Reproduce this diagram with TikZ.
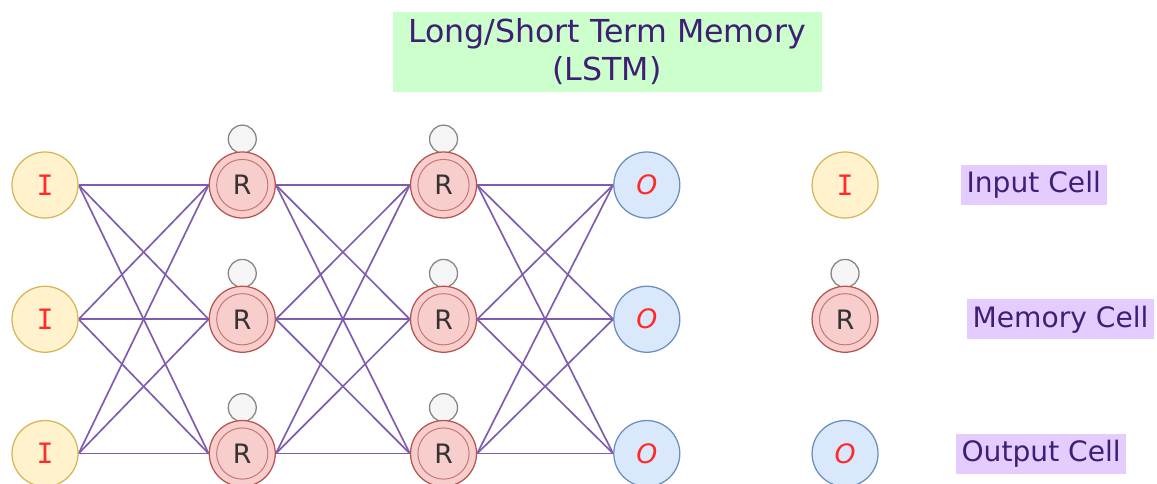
\documentclass[tikz,border=0pt]{standalone}
\usepackage{fontspec}
\setmainfont{DejaVu Sans}
\newfontfamily\serifI{DejaVu Sans Mono}
\usepackage{tikz}
\usetikzlibrary{positioning,backgrounds}
\definecolor{inyellow}{HTML}{FFF2CC}
\definecolor{inborder}{HTML}{D6B656}
\definecolor{memred}{HTML}{F8CECC}
\definecolor{memborder}{HTML}{B85450}
\definecolor{outblue}{HTML}{DAE8FC}
\definecolor{outborder}{HTML}{6C8EBF}
\definecolor{loopgray}{HTML}{F5F5F5}
\definecolor{loopborder}{HTML}{666666}
\definecolor{wirepurple}{HTML}{7E5DB0}
\definecolor{labelpurple}{HTML}{E5CCFF}
\definecolor{textpurple}{HTML}{3F1F75}
\definecolor{titlegreen}{HTML}{CCFFCC}
\definecolor{letterred}{HTML}{FF2A2A}

\begin{document}
\begin{tikzpicture}[
    cell/.style={circle, draw, line width=0.9pt, minimum size=1.65cm, inner sep=0pt, font=\fontsize{19}{24}\selectfont},
    incell/.style={cell, fill=inyellow, draw=inborder, text=letterred, font=\fontsize{20}{24}\selectfont\serifI},
    memcell/.style={cell, fill=memred, draw=memborder, text=black!80,
        path picture={\draw[memborder!80, line width=0.7pt] (path picture bounding box.center) circle (0.64cm);}},
    outcell/.style={cell, fill=outblue, draw=outborder, text=letterred, font=\fontsize{19}{24}\selectfont\itshape},
    loopcell/.style={circle, draw=loopborder!80, fill=loopgray, line width=0.9pt, minimum size=0.7cm, inner sep=0pt},
    wire/.style={wirepurple, line width=1.2pt},
    legendlbl/.style={fill=labelpurple, text=textpurple, inner xsep=4pt, inner ysep=3pt, minimum height=1cm, font=\fontsize{20}{24}\selectfont},
    titlebox/.style={fill=titlegreen, text=textpurple, align=center, minimum width=10.725cm, minimum height=2cm, font=\fontsize{22.5}{27}\selectfont},
]
    \useasboundingbox (0,0) rectangle (28.925,-12.1);

    \node[titlebox] (title) at (15.175,-1.3) {Long/Short Term Memory\\(LSTM)};

    % input column
    \node[incell] (i1) at (1.125,-4.625) {I};
    \node[incell, below=1.675cm of i1] (i2) {I};
    \node[incell, below=1.675cm of i2] (i3) {I};

    % first memory column
    \node[memcell, right=3.25cm of i1] (r11) {R};
    \node[memcell, below=1.675cm of r11] (r12) {R};
    \node[memcell, below=1.675cm of r12] (r13) {R};

    % second memory column
    \node[memcell, right=3.35cm of r11] (r21) {R};
    \node[memcell, below=1.675cm of r21] (r22) {R};
    \node[memcell, below=1.675cm of r22] (r23) {R};

    % output column
    \node[outcell, right=3.4cm of r21] (o1) {O};
    \node[outcell, below=1.675cm of o1] (o2) {O};
    \node[outcell, below=1.675cm of o2] (o3) {O};

    % legend
    \node[incell, right=3.275cm of o1] (li) {I};
    \node[memcell, below=1.675cm of li] (lr) {R};
    \node[outcell, below=1.675cm of lr] (lo) {O};

    \node[legendlbl, right=2.05cm of li] (lbli) {Input Cell};
    \node[legendlbl, right=2.2cm of lr] (lblr) {Memory Cell};
    \node[legendlbl, right=1.925cm of lo] (lblo) {Output Cell};

    % self loops sit behind the memory cells
    \begin{scope}[on background layer]
    \node[loopcell, above=-0.06cm of r11] (l11) {};
    \node[loopcell, above=-0.06cm of r12] (l12) {};
    \node[loopcell, above=-0.06cm of r13] (l13) {};
    \node[loopcell, above=-0.06cm of r21] (l21) {};
    \node[loopcell, above=-0.06cm of r22] (l22) {};
    \node[loopcell, above=-0.06cm of r23] (l23) {};
    \node[loopcell, above=-0.06cm of lr] (llr) {};

    % input -> memory
    \draw[wire] (i1.east) -- (r11.west);
    \draw[wire] (i1.east) -- (r12.west);
    \draw[wire] (i1.east) -- (r13.west);
    \draw[wire] (i2.east) -- (r11.west);
    \draw[wire] (i2.east) -- (r12.west);
    \draw[wire] (i2.east) -- (r13.west);
    \draw[wire] (i3.east) -- (r11.west);
    \draw[wire] (i3.east) -- (r12.west);
    \draw[wire] (i3.east) -- (r13.west);

    % memory -> memory
    \draw[wire] (r11.east) -- (r21.west);
    \draw[wire] (r11.east) -- (r22.west);
    \draw[wire] (r11.east) -- (r23.west);
    \draw[wire] (r12.east) -- (r21.west);
    \draw[wire] (r12.east) -- (r22.west);
    \draw[wire] (r12.east) -- (r23.west);
    \draw[wire] (r13.east) -- (r21.west);
    \draw[wire] (r13.east) -- (r22.west);
    \draw[wire] (r13.east) -- (r23.west);

    % memory -> output
    \draw[wire] (r21.east) -- (o1.west);
    \draw[wire] (r21.east) -- (o2.west);
    \draw[wire] (r21.east) -- (o3.west);
    \draw[wire] (r22.east) -- (o1.west);
    \draw[wire] (r22.east) -- (o2.west);
    \draw[wire] (r22.east) -- (o3.west);
    \draw[wire] (r23.east) -- (o1.west);
    \draw[wire] (r23.east) -- (o2.west);
    \draw[wire] (r23.east) -- (o3.west);
    \end{scope}
\end{tikzpicture}
\end{document}
